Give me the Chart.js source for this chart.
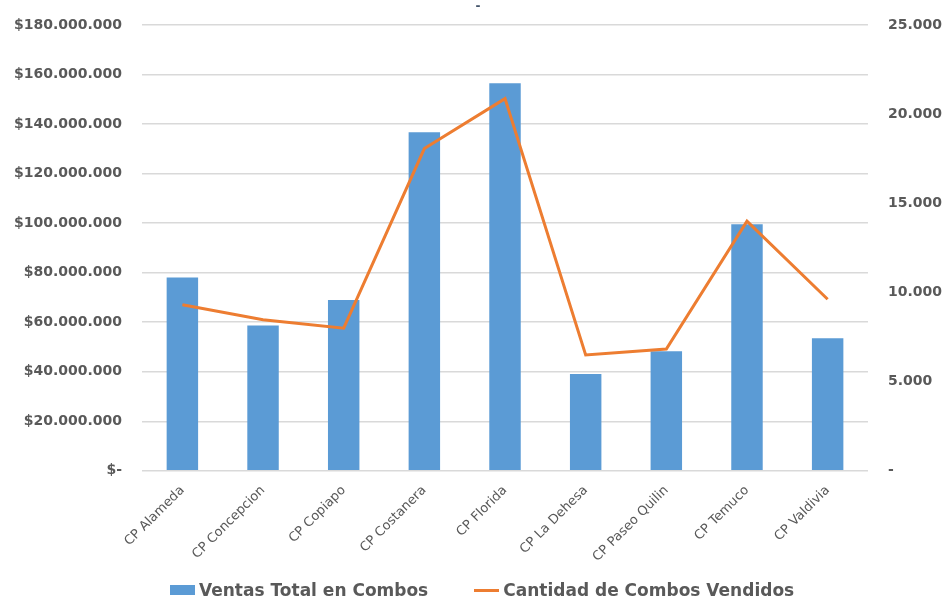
<!DOCTYPE html>
<html>
<head>
<meta charset="utf-8">
<script src="https://cdn.jsdelivr.net/npm/chart.js@4.4.1/dist/chart.umd.min.js"></script>
<style>
    body { margin: 0; background: #fff; }
    #wrap { position: relative; width: 944px; height: 599px; }
    #legend {
        position: absolute; left: 170px; top: 580px;
        display: flex; align-items: center;
        font-family: "DejaVu Sans", Verdana, sans-serif; font-weight: bold;
        font-size: 17px; color: #595959; white-space: nowrap;
    }
    #legend .item { display: flex; align-items: center; margin-right: 46px; }
    #legend .swatch { width: 25px; margin-right: 4px; }
</style>
</head>
<body>
<div id="wrap">
    <canvas id="combos-chart" width="944" height="599"></canvas>
    <div id="legend"></div>
</div>
<script>
const tiendas = ['CP Alameda', 'CP Concepcion', 'CP Copiapo', 'CP Costanera', 'CP Florida',
    'CP La Dehesa', 'CP Paseo Quilin', 'CP Temuco', 'CP Valdivia'];
const ventasTotal = [78000000, 58700000, 69000000, 136700000, 156500000, 39100000, 48300000, 99500000, 53500000];
const cantidadCombos = [9310, 8470, 8000, 18070, 20870, 6500, 6830, 14000, 9620];
const ventasTicks = ['$-', '$20.000.000', '$40.000.000', '$60.000.000', '$80.000.000',
    '$100.000.000', '$120.000.000', '$140.000.000', '$160.000.000', '$180.000.000'];
const combosTicks = ['-', '5.000', '10.000', '15.000', '20.000', '25.000'];

const tickFont = { family: '"DejaVu Sans", Verdana, sans-serif', size: 14, weight: 'bold' };

// the big tick padding is only wanted sideways, not above/below the plot
function noVerticalPadding(scale) {
    scale.paddingTop = 0;
    scale.paddingBottom = 0;
}

const ctx = document.getElementById('combos-chart').getContext('2d');
const combosChart = new Chart(ctx, {
    data: {
        labels: tiendas,
        datasets: [{
            type: 'line',
            label: 'Cantidad de Combos Vendidos',
            data: cantidadCombos,
            yAxisID: 'yCombos',
            borderColor: '#ED7D31',
            backgroundColor: '#ED7D31',
            borderWidth: 3,
            pointRadius: 0,
            tension: 0,
            order: 0
        }, {
            type: 'bar',
            label: 'Ventas Total en Combos',
            data: ventasTotal,
            yAxisID: 'yVentas',
            backgroundColor: '#5B9BD5',
            categoryPercentage: 1,
            barPercentage: 0.39,
            order: 1
        }]
    },
    options: {
        responsive: false,
        animation: false,
        layout: { padding: { left: -6, right: -18, top: 0, bottom: 30 } },
        plugins: {
            legend: { display: false },
            tooltip: { enabled: false },
            title: {
                display: true,
                text: '-',
                color: '#44546A',
                font: { family: '"DejaVu Sans", sans-serif', size: 12, weight: 'bold' },
                padding: { top: 0, bottom: 10.6 }
            }
        },
        scales: {
            x: {
                grid: { display: false },
                border: { display: false },
                ticks: {
                    color: '#595959',
                    font: { family: '"DejaVu Sans", Verdana, sans-serif', size: 13 },
                    minRotation: 45,
                    maxRotation: 45,
                    padding: 4,
                    autoSkip: false
                }
            },
            yVentas: {
                position: 'left',
                min: 0,
                max: 180000000,
                grid: { color: '#D9D9D9', lineWidth: 1.5, drawTicks: false },
                border: { display: false },
                ticks: {
                    stepSize: 20000000,
                    color: '#595959',
                    font: tickFont,
                    padding: 20,
                    callback: (value, index) => ventasTicks[index]
                },
                afterFit: noVerticalPadding
            },
            yCombos: {
                position: 'right',
                min: 0,
                max: 25000,
                grid: { display: false, drawTicks: false },
                border: { display: false },
                ticks: {
                    stepSize: 5000,
                    color: '#595959',
                    font: tickFont,
                    padding: 20,
                    callback: (value, index) => combosTicks[index]
                },
                afterFit: noVerticalPadding
            }
        }
    }
});

// legend in the order of the original: bars first, then the line
const legendEl = document.getElementById('legend');
combosChart.data.datasets.slice().reverse().forEach(ds => {
    const item = document.createElement('div');
    item.className = 'item';
    const swatch = document.createElement('span');
    swatch.className = 'swatch';
    if (ds.type === 'bar') {
        swatch.style.height = '10px';
        swatch.style.background = ds.backgroundColor;
    } else {
        swatch.style.height = '3px';
        swatch.style.background = ds.borderColor;
    }
    const text = document.createElement('span');
    text.textContent = ds.label;
    item.appendChild(swatch);
    item.appendChild(text);
    legendEl.appendChild(item);
});
</script>
</body>
</html>
